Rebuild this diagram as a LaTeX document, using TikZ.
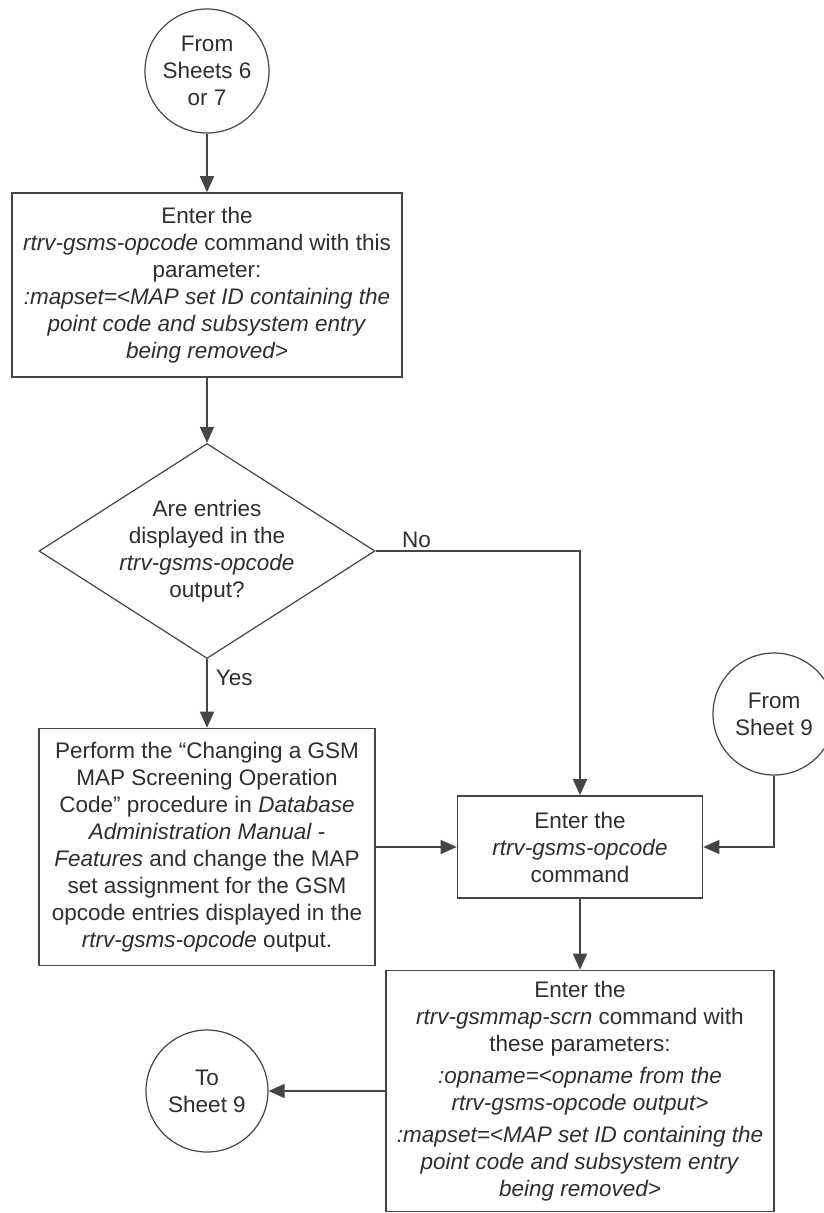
\documentclass[tikz,border=0pt]{standalone}
\usepackage{fontspec}
\setmainfont{Liberation Sans}
\usepackage{tikz}
\usetikzlibrary{shapes.geometric,arrows.meta}
\definecolor{linegray}{HTML}{454545}
\definecolor{textgray}{HTML}{2E2E2E}
\tikzset{
	procbox/.style={draw=linegray, line width=1.6pt, rectangle, align=center, inner sep=2pt, text=textgray},
	sheetref/.style={draw=linegray, line width=1.2pt, circle, align=center, inner sep=0pt, text=textgray},
	decide/.style={draw=linegray, line width=1.2pt, diamond, aspect=1.56, align=center, inner sep=0pt, text=textgray},
	flow/.style={draw=linegray, line width=1.6pt, -{Triangle[length=16pt,width=14pt]}},
	answer/.style={text=textgray, inner sep=2pt}
}

\begin{document}
\begin{tikzpicture}[x=1pt, y=-1pt, font=\fontsize{22.5}{27}\selectfont]
			\useasboundingbox (0,0) rectangle (823,1213);
			
			% Entry connectors
			\node[sheetref, minimum size=124pt] (start) at (207,71) {From\\Sheets 6\\or 7};
			\node[sheetref, minimum size=122pt] (fromnine) at (774,714) {From\\Sheet 9};
			
			% Retrieve the opcodes of the MAP set
			\node[procbox, minimum width=390pt, minimum height=184pt] (getpc) at (207,285)
				{Enter the\\\textit{rtrv-gsms-opcode} command with this\\parameter:\\\textit{:mapset=<MAP set ID containing the}\\\textit{point code and subsystem entry}\\\textit{being removed>}};
			
			% Decision on the output
			\node[decide, minimum width=336pt, minimum height=215pt] (dec) at (207,551)
				{Are entries\\displayed in the\\\textit{rtrv-gsms-opcode}\\output?};
			
			% Change the MAP set assignment
			\node[procbox, minimum width=336pt, minimum height=237pt] (change) at (207,847)
				{Perform the “Changing a GSM\\MAP Screening Operation\\Code” procedure in \textit{Database}\\\textit{Administration Manual -}\\\textit{Features} and change the MAP\\set assignment for the GSM\\opcode entries displayed in the\\\textit{rtrv-gsms-opcode} output.};
			
			% Retrieve the opcodes again
			\node[procbox, minimum width=245pt, minimum height=102pt] (getop) at (580,847)
				{Enter the\\\textit{rtrv-gsms-opcode}\\command};
			
			% Retrieve the screening entries
			\node[procbox, minimum width=388pt, minimum height=241pt] (getscrn) at (580,1091)
				{Enter the\\\textit{rtrv-gsmmap-scrn} command with\\these parameters:\\[5pt]\textit{:opname=<opname from the}\\\textit{rtrv-gsms-opcode output>}\\[5pt]\textit{:mapset=<MAP set ID containing the}\\\textit{point code and subsystem entry}\\\textit{being removed>}};
			
			% Exit connector
			\node[sheetref, minimum size=122pt] (tonine) at (207,1091) {To\\Sheet 9};
			
			% Flow lines
			\draw[flow] (start) -- (getpc);
			\draw[flow] (getpc) -- (dec);
			\draw[flow] (dec) -- node[answer, pos=0.27, right=6pt] {Yes} (change);
			\draw[flow] (dec.east) -| node[answer, pos=0.1, above] {No} (getop);
			\draw[flow] (change) -- (getop);
			\draw[flow] (fromnine) |- (getop);
			\draw[flow] (getop) -- (getscrn);
			\draw[flow] (getscrn) -- (tonine);
		\end{tikzpicture}
\end{document}
